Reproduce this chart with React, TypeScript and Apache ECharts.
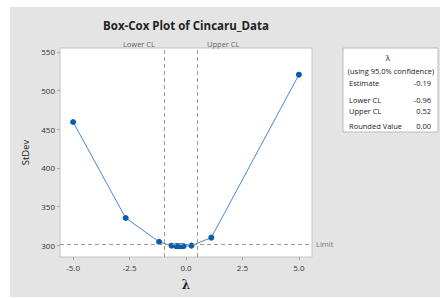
import React, { useEffect, useRef } from "react";
import * as echarts from "echarts";

const lambdaValues = [-5, -2.67, -1.19, -0.64, -0.44, -0.36, -0.28, -0.19, -0.11, 0.24, 1.12, 5];
const stdevValues = [459.4, 335.4, 304.6, 299.6, 299.1, 299.0, 298.9, 298.9, 299.0, 299.7, 310.0, 520.5];
const xTicks = [-5, -2.5, 0, 2.5, 5];
const yTicks = [300, 350, 400, 450, 500, 550];
const lowerCL = -0.96;
const upperCL = 0.52;
const limitValue = 301.8;
const tableRows = [
  ["Estimate", "-0.19"],
  ["Lower CL", "-0.96"],
  ["Upper CL", "0.52"],
  ["Rounded Value", "0.00"],
];

const FONT = "'Open Sans', 'Noto Sans', sans-serif";

export default function App() {
  const ref = useRef<HTMLDivElement>(null);
  useEffect(() => {
    if (!ref.current) return;
    const chart = echarts.init(ref.current, null, { renderer: "svg" });
    const rowY = [83, 100, 110.5, 126];
    const tableTexts: any[] = [];
    tableRows.forEach((r, i) => {
      tableTexts.push({
        type: "text", x: 349, y: rowY[i],
        style: { text: r[0], font: `7.5px ${FONT}`, fill: "#222", textVerticalAlign: "middle" },
      });
      tableTexts.push({
        type: "text", x: 431, y: rowY[i],
        style: { text: r[1], font: `7.5px ${FONT}`, fill: "#222", textAlign: "right", textVerticalAlign: "middle" },
      });
    });
    chart.setOption({
      animation: false,
      textStyle: { fontFamily: FONT },
      graphic: [
        { type: "rect", z: -10, silent: true, shape: { x: 10, y: 7, width: 430, height: 290 }, style: { fill: "#e4e4e4" } },
        {
          type: "text", x: 186, y: 25,
          style: { text: "Box-Cox Plot of Cincaru_Data", font: `bold 11.5px ${FONT}`, fill: "#222", textAlign: "center", textVerticalAlign: "middle" },
        },
        {
          type: "text", x: 155, y: 44,
          style: { text: "Lower CL", font: `7.5px ${FONT}`, fill: "#666", textAlign: "right", textVerticalAlign: "middle" },
        },
        {
          type: "text", x: 207, y: 44,
          style: { text: "Upper CL", font: `7.5px ${FONT}`, fill: "#666", textAlign: "left", textVerticalAlign: "middle" },
        },
        { type: "rect", shape: { x: 343, y: 48, width: 95, height: 84 }, style: { fill: "#fff", stroke: "#bbb", lineWidth: 1 } },
        {
          type: "text", x: 388, y: 57,
          style: { text: "λ", font: `8px ${FONT}`, fill: "#222", textAlign: "center", textVerticalAlign: "middle" },
        },
        {
          type: "text", x: 391, y: 71,
          style: { text: "(using 95.0% confidence)", font: `7.5px ${FONT}`, fill: "#222", textAlign: "center", textVerticalAlign: "middle" },
        },
        ...tableTexts,
      ],
      grid: {
        left: 60, top: 48, width: 252, height: 209,
        show: true, backgroundColor: "#fff", borderColor: "#c4c4c4", borderWidth: 1,
      },
      xAxis: {
        type: "value", min: -5.58, max: 5.58,
        name: "λ", nameLocation: "middle", nameGap: 22,
        nameTextStyle: { fontSize: 12, fontWeight: "bold", color: "#222", fontFamily: "'DejaVu Serif', serif" },
        axisLine: { show: false, onZero: false },
        splitLine: { show: false },
        axisTick: { show: true, length: 3, lineStyle: { color: "#aaa" }, customValues: xTicks },
        axisLabel: { fontSize: 8, color: "#333", margin: 6, customValues: xTicks, formatter: (v: number) => v.toFixed(1) },
      },
      yAxis: {
        type: "value", min: 285, max: 555,
        name: "StDev", nameLocation: "middle", nameGap: 27, nameRotate: 90,
        nameTextStyle: { fontSize: 9.5, color: "#222" },
        axisLine: { show: false, onZero: false },
        splitLine: { show: false },
        axisTick: { show: true, length: 3, lineStyle: { color: "#aaa" }, customValues: yTicks },
        axisLabel: { fontSize: 8, color: "#333", margin: 5, customValues: yTicks },
      },
      series: [
        {
          type: "line",
          data: lambdaValues.map((x, i) => [x, stdevValues[i]]),
          symbol: "circle", symbolSize: 6,
          lineStyle: { color: "#4a86cf", width: 1 },
          itemStyle: { color: "#0b5cad" },
          markLine: {
            silent: true, symbol: "none", animation: false,
            lineStyle: { type: [4, 3], color: "#999", width: 1 },
            data: [
              { xAxis: lowerCL, label: { show: false } },
              { xAxis: upperCL, label: { show: false } },
              { yAxis: limitValue, label: { show: true, position: "end", formatter: "Limit", fontSize: 7.5, color: "#777", distance: 4 } },
            ],
          },
        },
      ],
    });
    return () => chart.dispose();
  }, []);
  return <div ref={ref} style={{ position: "fixed", left: 0, top: 0, width: 440, height: 298, background: "#fff" }} />;
}
